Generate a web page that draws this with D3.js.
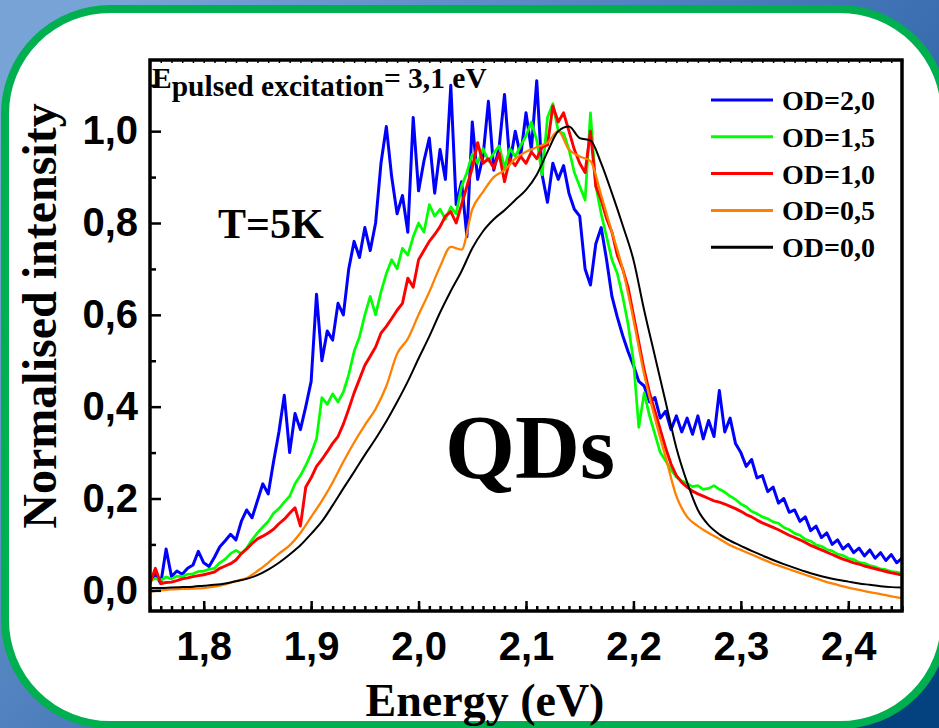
<!DOCTYPE html>
<html>
<head>
<meta charset="utf-8">
<script src="https://cdn.jsdelivr.net/npm/d3@7"></script>
<style>
body { margin: 0; background: #fff; }
svg { display: block; }
</style>
</head>
<body>
<div id="chart"></div>
<script>
//-------------------------DATA-------------------------\\
// energy grid: noisy spectra sampled every 5 meV, smooth ones every 10 meV
var energyStart = 1.75;
var fineStep = 0.005;
var coarseStep = 0.01;

var od20 = [
  0.020, 0.035, 0.015, 0.090, 0.030, 0.042, 0.035, 0.048, 0.055, 0.085,
  0.060, 0.052, 0.072, 0.095, 0.108, 0.122, 0.110, 0.150, 0.175, 0.158,
  0.195, 0.232, 0.210, 0.280, 0.345, 0.425, 0.300, 0.385, 0.350, 0.400,
  0.455, 0.645, 0.500, 0.565, 0.545, 0.625, 0.600, 0.700, 0.760, 0.725,
  0.790, 0.740, 0.800, 0.930, 1.010, 0.900, 0.820, 0.860, 0.780, 1.030,
  0.870, 0.935, 0.985, 0.865, 0.960, 0.895, 1.100, 0.840, 0.890, 0.770,
  1.020, 0.895, 0.945, 1.065, 0.915, 0.965, 1.080, 0.930, 1.000, 0.945,
  1.040, 0.960, 1.110, 0.905, 0.845, 0.930, 0.895, 0.925, 0.865, 0.830,
  0.815, 0.700, 0.665, 0.755, 0.790, 0.720, 0.640, 0.595, 0.555, 0.520,
  0.490, 0.455, 0.445, 0.410, 0.420, 0.375, 0.390, 0.350, 0.380, 0.345,
  0.375, 0.340, 0.380, 0.330, 0.370, 0.335, 0.435, 0.345, 0.375, 0.320,
  0.300, 0.270, 0.285, 0.245, 0.250, 0.215, 0.225, 0.190, 0.200, 0.170,
  0.175, 0.150, 0.160, 0.130, 0.140, 0.115, 0.125, 0.100, 0.110, 0.090,
  0.100, 0.082, 0.092, 0.075, 0.088, 0.070, 0.082, 0.065, 0.078, 0.060,
  0.070
];

var od15 = [
  0.020, 0.026, 0.022, 0.029, 0.025, 0.031, 0.030, 0.035, 0.036, 0.041,
  0.042, 0.046, 0.048, 0.060, 0.068, 0.080, 0.087, 0.080, 0.092, 0.110,
  0.125, 0.138, 0.150, 0.168, 0.178, 0.192, 0.205, 0.232, 0.250, 0.272,
  0.298, 0.330, 0.420, 0.405, 0.428, 0.410, 0.432, 0.470, 0.520, 0.552,
  0.600, 0.640, 0.600, 0.650, 0.690, 0.720, 0.700, 0.745, 0.730, 0.770,
  0.800, 0.780, 0.840, 0.815, 0.830, 0.808, 0.835, 0.820, 0.880, 0.910,
  0.950, 0.930, 0.962, 0.935, 0.952, 0.968, 0.920, 0.962, 0.945, 0.968,
  0.990, 1.020, 0.980, 0.905, 1.030, 1.060, 1.000, 0.995, 0.960, 0.910,
  0.880, 0.850, 1.040, 0.880, 0.820, 0.770, 0.720, 0.690, 0.640, 0.580,
  0.500, 0.355, 0.430, 0.380, 0.340, 0.300, 0.282, 0.262, 0.247, 0.238,
  0.233, 0.226, 0.228, 0.220, 0.222, 0.228, 0.220, 0.214, 0.205, 0.198,
  0.188, 0.182, 0.172, 0.167, 0.160, 0.156, 0.149, 0.146, 0.137, 0.132,
  0.124, 0.120, 0.111, 0.107, 0.099, 0.096, 0.089, 0.086, 0.079, 0.076,
  0.070, 0.067, 0.061, 0.059, 0.054, 0.051, 0.047, 0.045, 0.041, 0.040,
  0.037
];

var od10 = [
  0.015, 0.048, 0.015, 0.017, 0.018, 0.021, 0.025, 0.027, 0.030, 0.032,
  0.034, 0.037, 0.040, 0.048, 0.053, 0.058, 0.066, 0.080, 0.090, 0.102,
  0.112, 0.118, 0.125, 0.133, 0.145, 0.155, 0.168, 0.180, 0.140, 0.225,
  0.245, 0.270, 0.285, 0.302, 0.320, 0.335, 0.362, 0.395, 0.430, 0.460,
  0.490, 0.510, 0.530, 0.560, 0.575, 0.592, 0.610, 0.625, 0.680, 0.660,
  0.720, 0.740, 0.760, 0.775, 0.792, 0.815, 0.825, 0.800, 0.840, 0.880,
  0.920, 0.975, 0.930, 0.940, 0.920, 0.952, 0.890, 0.940, 0.925, 0.945,
  0.930, 0.955, 0.940, 0.965, 0.970, 1.055, 1.020, 1.040, 1.000, 0.960,
  0.930, 0.910, 1.000, 0.880, 0.850, 0.810, 0.780, 0.730, 0.700, 0.660,
  0.600, 0.540, 0.480, 0.430, 0.390, 0.350, 0.310, 0.275, 0.250, 0.235,
  0.225, 0.216, 0.210, 0.205, 0.200, 0.195, 0.192, 0.188, 0.183, 0.178,
  0.172, 0.165, 0.160, 0.153, 0.147, 0.142, 0.137, 0.132, 0.126, 0.120,
  0.115, 0.110, 0.104, 0.098, 0.093, 0.088, 0.083, 0.078, 0.073, 0.068,
  0.064, 0.060, 0.057, 0.053, 0.050, 0.047, 0.044, 0.041, 0.038, 0.036,
  0.033
];

var od05 = [
  -0.003, 0.000, 0.002, 0.003, 0.004, 0.005, 0.008, 0.013, 0.020, 0.027,
  0.042, 0.060, 0.080, 0.098, 0.125, 0.160, 0.195, 0.235, 0.280, 0.322,
  0.360, 0.395, 0.445, 0.515, 0.548, 0.600, 0.650, 0.705, 0.748, 0.742,
  0.830, 0.868, 0.900, 0.915, 0.940, 0.955, 0.965, 0.975, 1.000, 0.960,
  0.945, 0.935, 0.860, 0.780, 0.700, 0.590, 0.470, 0.375, 0.290, 0.205,
  0.160, 0.140, 0.125, 0.112, 0.098, 0.088, 0.078, 0.068, 0.058, 0.050,
  0.042, 0.034, 0.026, 0.018, 0.012, 0.006, 0.001, -0.004, -0.008, -0.013,
  -0.017
];

var od00 = [
  0.005, 0.005, 0.006, 0.007, 0.008, 0.010, 0.012, 0.015, 0.020, 0.025,
  0.033, 0.045, 0.060, 0.078, 0.098, 0.123, 0.150, 0.185, 0.222, 0.258,
  0.295, 0.330, 0.368, 0.410, 0.455, 0.505, 0.553, 0.605, 0.652, 0.695,
  0.745, 0.782, 0.808, 0.828, 0.850, 0.872, 0.905, 0.955, 1.000, 1.010,
  0.985, 0.980, 0.930, 0.865, 0.795, 0.720, 0.610, 0.510, 0.410, 0.310,
  0.235, 0.175, 0.142, 0.122, 0.108, 0.097, 0.086, 0.076, 0.066, 0.057,
  0.049, 0.041, 0.034, 0.028, 0.023, 0.019, 0.015, 0.012, 0.009, 0.007,
  0.006
];

var seriesNames = ["OD=2,0", "OD=1,5", "OD=1,0", "OD=0,5", "OD=0,0"];
var seriesColors = ["#0000ff", "#00ff00", "#ff0000", "#ff8000", "#000000"];
var xTicks = [1.8, 1.9, 2.0, 2.1, 2.2, 2.3, 2.4];
var yTicks = [0, 0.2, 0.4, 0.6, 0.8, 1.0];

var series = [
  { name: seriesNames[0], color: seriesColors[0], step: fineStep, values: od20, width: 3, smooth: false },
  { name: seriesNames[1], color: seriesColors[1], step: fineStep, values: od15, width: 2.7, smooth: false },
  { name: seriesNames[2], color: seriesColors[2], step: fineStep, values: od10, width: 2.9, smooth: false },
  { name: seriesNames[3], color: seriesColors[3], step: coarseStep, values: od05, width: 2.3, smooth: true },
  { name: seriesNames[4], color: seriesColors[4], step: coarseStep, values: od00, width: 2, smooth: true }
];

var serif = '"Liberation Serif", "Times New Roman", serif';
var sans = '"Liberation Sans", Arial, sans-serif';

var svg = d3.select("#chart")
    .append("svg")
    .attr("width", 939)
    .attr("height", 728);

//-------------------------BACKGROUND + FRAME-------------------------\\
var defs = svg.append("defs");
var grad = defs.append("linearGradient")
    .attr("id", "bg")
    .attr("x1", "0").attr("y1", "0.2")
    .attr("x2", "1").attr("y2", "0.9");
grad.append("stop").attr("offset", "0").attr("stop-color", "#78a3d6");
grad.append("stop").attr("offset", "0.55").attr("stop-color", "#3f72b4");
grad.append("stop").attr("offset", "1").attr("stop-color", "#03427f");

svg.append("rect")
    .attr("width", 939)
    .attr("height", 728)
    .attr("fill", "url(#bg)");

svg.append("rect")
    .attr("x", 5)
    .attr("y", 9)
    .attr("width", 940)
    .attr("height", 716)
    .attr("rx", 105)
    .attr("fill", "#fff")
    .attr("stroke", "#00b050")
    .attr("stroke-width", 8);

//-------------------------SCALES-------------------------\\
var plotLeft = 150, plotRight = 902, plotTop = 60, plotBottom = 611;

var x = d3.scaleLinear()
    .domain([1.75, 2.45])
    .range([plotLeft, plotRight]);

var y = d3.scaleLinear()
    .domain([-0.045, 1.155])
    .range([plotBottom, plotTop]);

var comma = function(d) { return d3.format(".1f")(d).replace(".", ","); };

defs.append("clipPath")
    .attr("id", "plotclip")
    .append("rect")
    .attr("x", plotLeft)
    .attr("y", plotTop)
    .attr("width", plotRight - plotLeft)
    .attr("height", plotBottom - plotTop);

//-------------------------SPECTRA-------------------------\\
var plot = svg.append("g").attr("clip-path", "url(#plotclip)");

series.forEach(function(s) {
    var line = d3.line()
        .curve(s.smooth ? d3.curveMonotoneX : d3.curveLinear)
        .x(function(d, i) { return x(energyStart + i * s.step); })
        .y(function(d) { return y(d); });
    plot.append("path")
        .datum(s.values)
        .attr("d", line)
        .attr("fill", "none")
        .attr("stroke", s.color)
        .attr("stroke-width", s.width)
        .attr("stroke-linejoin", "round");
});

//-------------------------AXES-------------------------\\
var minorX = d3.range(1.75, 2.4501, 0.01);
var minorY = [0.1, 0.3, 0.5, 0.7, 0.9, 1.1];

// bottom minor ticks
svg.append("g")
    .attr("transform", "translate(0," + plotBottom + ")")
    .call(d3.axisBottom(x).tickValues(minorX).tickSize(-5).tickFormat(""))
    .call(function(g) { g.select(".domain").remove(); })
    .selectAll("line").attr("stroke-width", 2.5);

// bottom major ticks + labels
var xAxis = svg.append("g")
    .attr("transform", "translate(0," + plotBottom + ")")
    .call(d3.axisBottom(x).tickValues(xTicks).tickSize(-10).tickPadding(21).tickFormat(comma));
xAxis.select(".domain").remove();
xAxis.selectAll("line").attr("stroke-width", 2.5);
xAxis.selectAll("text")
    .style("font-family", sans)
    .style("font-weight", "700")
    .style("font-size", "40px")
    .attr("fill", "#000");

// top small ticks
svg.append("g")
    .attr("transform", "translate(0," + plotTop + ")")
    .call(d3.axisTop(x).tickValues(minorX).tickSize(-3).tickFormat(""))
    .call(function(g) { g.select(".domain").remove(); })
    .selectAll("line").attr("stroke-width", 1.5);

// left minor ticks
svg.append("g")
    .attr("transform", "translate(" + plotLeft + ",0)")
    .call(d3.axisLeft(y).tickValues(minorY).tickSize(-6).tickFormat(""))
    .call(function(g) { g.select(".domain").remove(); })
    .selectAll("line").attr("stroke-width", 2.5);

// left major ticks + labels
var yAxis = svg.append("g")
    .attr("transform", "translate(" + plotLeft + ",0)")
    .call(d3.axisLeft(y).tickValues(yTicks).tickSize(-11).tickPadding(12).tickFormat(comma));
yAxis.select(".domain").remove();
yAxis.selectAll("line").attr("stroke-width", 2.5);
yAxis.selectAll("text")
    .style("font-family", sans)
    .style("font-weight", "700")
    .style("font-size", "40px")
    .attr("fill", "#000");

// frame
svg.append("rect")
    .attr("x", plotLeft)
    .attr("y", plotTop)
    .attr("width", plotRight - plotLeft)
    .attr("height", plotBottom - plotTop)
    .attr("fill", "none")
    .attr("stroke", "#000")
    .attr("stroke-width", 3.5);

//-------------------------AXIS TITLES-------------------------\\
svg.append("text")
    .attr("x", 485)
    .attr("y", 716)
    .attr("text-anchor", "middle")
    .style("font-family", serif)
    .style("font-weight", "700")
    .style("font-size", "46px")
    .text("Energy (eV)");

svg.append("text")
    .attr("transform", "translate(56,316) rotate(-90)")
    .attr("text-anchor", "middle")
    .style("font-family", serif)
    .style("font-weight", "700")
    .style("font-size", "48px")
    .text("Normalised intensity");

//-------------------------ANNOTATIONS-------------------------\\
var exc = svg.append("text")
    .attr("x", 152)
    .attr("y", 88)
    .style("font-family", serif)
    .style("font-weight", "700")
    .style("font-size", "29.5px");
exc.append("tspan").text("E");
exc.append("tspan").attr("dy", 8).text("pulsed excitation");
exc.append("tspan").attr("dy", -8).text("= 3,1 eV");

svg.append("text")
    .attr("x", 218)
    .attr("y", 238)
    .style("font-family", serif)
    .style("font-weight", "700")
    .style("font-size", "42px")
    .text("T=5K");

svg.append("text")
    .attr("x", 445)
    .attr("y", 478)
    .style("font-family", serif)
    .style("font-weight", "700")
    .style("font-size", "90px")
    .text("QDs");

//-------------------------LEGEND-------------------------\\
var legend = svg.selectAll(".legend")
    .data(series)
    .join("g")
    .attr("class", "legend")
    .attr("transform", function(d, i) { return "translate(711," + (100 + i * 36.8) + ")"; });

legend.append("line")
    .attr("x1", 0)
    .attr("x2", 62)
    .attr("stroke", function(d) { return d.color; })
    .attr("stroke-width", 3);

legend.append("text")
    .attr("x", 71)
    .attr("y", 10)
    .style("font-family", serif)
    .style("font-weight", "700")
    .style("font-size", "28px")
    .text(function(d) { return d.name; });
</script>
</body>
</html>
